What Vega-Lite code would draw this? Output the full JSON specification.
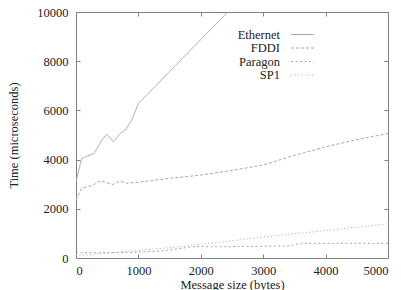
{
  "$schema": "https://vega.github.io/schema/vega-lite/v6.json",
  "width": 312,
  "height": 246,
  "autosize": {"type": "none"},
  "padding": {"left": 76, "top": 12, "right": 13, "bottom": 32},
  "background": "white",
  "config": {
    "font": "Liberation Serif, serif",
    "view": {"stroke": "#808080", "strokeWidth": 1},
    "axis": {
      "grid": false,
      "domain": false,
      "tickColor": "#808080",
      "tickSize": -4,
      "tickWidth": 1,
      "format": "d",
      "labelFont": "Liberation Serif, serif",
      "labelFontSize": 12.5,
      "labelColor": "#222",
      "labelPadding": 12,
      "titleFont": "Liberation Serif, serif",
      "titleFontSize": 12.5,
      "titleFontWeight": "normal",
      "titleColor": "#222"
    }
  },
  "data": {
    "values": [
      {"net": "Ethernet", "size": 0, "time": 3100},
      {"net": "Ethernet", "size": 90, "time": 4050},
      {"net": "Ethernet", "size": 290, "time": 4250},
      {"net": "Ethernet", "size": 410, "time": 4770},
      {"net": "Ethernet", "size": 490, "time": 5030},
      {"net": "Ethernet", "size": 600, "time": 4730},
      {"net": "Ethernet", "size": 700, "time": 5040},
      {"net": "Ethernet", "size": 790, "time": 5200},
      {"net": "Ethernet", "size": 890, "time": 5600},
      {"net": "Ethernet", "size": 1000, "time": 6280},
      {"net": "Ethernet", "size": 1500, "time": 7580},
      {"net": "Ethernet", "size": 2000, "time": 8880},
      {"net": "Ethernet", "size": 2500, "time": 10180},
      {"net": "FDDI", "size": 0, "time": 2360},
      {"net": "FDDI", "size": 90, "time": 2830},
      {"net": "FDDI", "size": 280, "time": 2970},
      {"net": "FDDI", "size": 390, "time": 3140},
      {"net": "FDDI", "size": 590, "time": 2990},
      {"net": "FDDI", "size": 700, "time": 3120},
      {"net": "FDDI", "size": 810, "time": 3040},
      {"net": "FDDI", "size": 1000, "time": 3080},
      {"net": "FDDI", "size": 1500, "time": 3240},
      {"net": "FDDI", "size": 2000, "time": 3370},
      {"net": "FDDI", "size": 2500, "time": 3560},
      {"net": "FDDI", "size": 3000, "time": 3780},
      {"net": "FDDI", "size": 3500, "time": 4170},
      {"net": "FDDI", "size": 4000, "time": 4520},
      {"net": "FDDI", "size": 4500, "time": 4810},
      {"net": "FDDI", "size": 5000, "time": 5060},
      {"net": "Paragon", "size": 0, "time": 215},
      {"net": "Paragon", "size": 450, "time": 215},
      {"net": "Paragon", "size": 900, "time": 230},
      {"net": "Paragon", "size": 1350, "time": 280},
      {"net": "Paragon", "size": 1880, "time": 460},
      {"net": "Paragon", "size": 2500, "time": 460},
      {"net": "Paragon", "size": 3400, "time": 490},
      {"net": "Paragon", "size": 3600, "time": 597},
      {"net": "Paragon", "size": 5000, "time": 597},
      {"net": "SP1", "size": 0, "time": 90},
      {"net": "SP1", "size": 500, "time": 200},
      {"net": "SP1", "size": 1000, "time": 310},
      {"net": "SP1", "size": 1500, "time": 420},
      {"net": "SP1", "size": 2000, "time": 560},
      {"net": "SP1", "size": 2500, "time": 705},
      {"net": "SP1", "size": 3000, "time": 850},
      {"net": "SP1", "size": 3500, "time": 990},
      {"net": "SP1", "size": 4000, "time": 1110},
      {"net": "SP1", "size": 4500, "time": 1250},
      {"net": "SP1", "size": 5000, "time": 1390}
    ]
  },
  "layer": [
    {
      "mark": {"type": "line", "clip": true, "strokeWidth": 1, "color": "#a8a8a8"},
      "encoding": {
        "x": {
          "field": "size",
          "type": "quantitative",
          "scale": {"domain": [0, 5000], "nice": false, "zero": false},
          "axis": {
            "orient": "bottom",
            "values": [0, 1000, 2000, 3000, 4000, 5000],
            "labelPadding": 10,
            "title": "Message size (bytes)",
            "titleY": 30,
            "titleBaseline": "alphabetic"
          }
        },
        "y": {
          "field": "time",
          "type": "quantitative",
          "scale": {"domain": [0, 10000], "nice": false, "zero": false},
          "axis": {
            "orient": "left",
            "values": [0, 2000, 4000, 6000, 8000, 10000],
            "title": "Time (microseconds)",
            "titleX": -59,
            "titleY": 123,
            "titleAngle": -90,
            "titleAlign": "center",
            "titleBaseline": "alphabetic"
          }
        },
        "strokeDash": {
          "field": "net",
          "type": "nominal",
          "scale": {
            "domain": ["Ethernet", "FDDI", "Paragon", "SP1"],
            "range": [[1, 0], [3, 2], [2, 2.5], [1, 2.5]]
          },
          "legend": {
            "title": null,
            "orient": "none",
            "legendX": 220,
            "legendY": 16,
            "padding": 0,
            "rowPadding": 0.5,
            "symbolType": "M-2,0H2",
            "symbolSize": 132,
            "symbolStrokeColor": "#a8a8a8",
            "symbolStrokeWidth": 1,
            "labelAlign": "right",
            "labelOffset": -29,
            "labelFont": "Liberation Serif, serif",
            "labelFontSize": 12.5,
            "labelColor": "#222",
            "labelLimit": 0
          }
        }
      }
    },
    {
      "mark": {"type": "line", "clip": true, "strokeOpacity": 0},
      "encoding": {
        "x": {
          "field": "size",
          "type": "quantitative",
          "axis": {"orient": "top", "values": [0, 1000, 2000, 3000, 4000, 5000], "labels": false, "title": null}
        },
        "y": {
          "field": "time",
          "type": "quantitative",
          "axis": {"orient": "right", "values": [0, 2000, 4000, 6000, 8000, 10000], "labels": false, "title": null}
        },
        "detail": {"field": "net", "type": "nominal"}
      }
    }
  ],
  "resolve": {"axis": {"x": "independent", "y": "independent"}}
}
